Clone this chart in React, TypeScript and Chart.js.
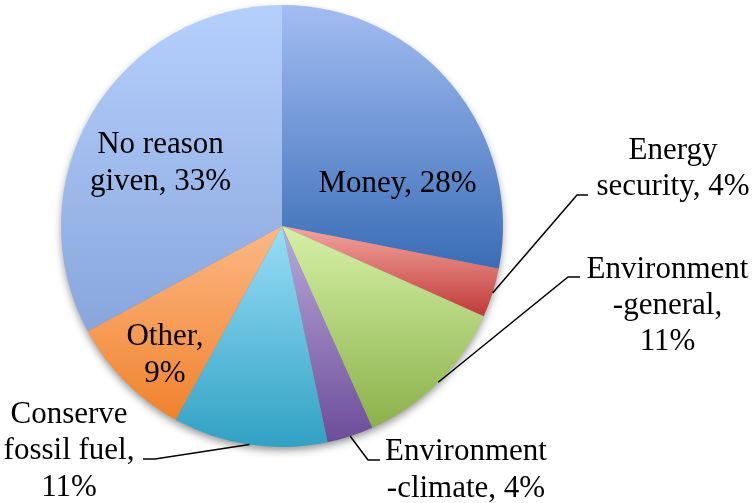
import React, { useEffect, useRef } from 'react';
import { Chart, ArcElement, PieController } from 'chart.js';

Chart.register(ArcElement, PieController);

// ---- data ----
const categories = [
  'Money',
  'Energy security',
  'Environment-general',
  'Environment-climate',
  'Conserve fossil fuel',
  'Other',
  'No reason given',
];
const shares = [28.1, 3.6, 11.6, 3.4, 11.3, 9.1, 32.9];
const labelLines = [
  ['Money, 28%'],
  ['Energy', 'security, 4%'],
  ['Environment', '-general,', '11%'],
  ['Environment', '-climate, 4%'],
  ['Conserve', 'fossil fuel,', '11%'],
  ['Other,', '9%'],
  ['No reason', 'given, 33%'],
];

// ---- styles ----
const topColors = ['#a3bdf2', '#f4a5a0', '#d6f0a6', '#baaadc', '#99def8', '#fdb886', '#b6d0fd'];
const bottomColors = ['#3a6db6', '#bf3a36', '#8bb14a', '#6c4d99', '#31a1c3', '#f0822c', '#88a6dc'];

type Leader = { elbowX: number; endX: number; y: number };
const labelLayout: { x: number; ys: number[]; leader?: Leader }[] = [
  { x: 397.5, ys: [192] },
  { x: 673, ys: [159, 195], leader: { elbowX: 577, endX: 588, y: 195 } },
  { x: 667.5, ys: [278, 314, 350], leader: { elbowX: 568, endX: 580, y: 277 } },
  { x: 466, ys: [460, 497], leader: { elbowX: 368, endX: 380, y: 460 } },
  { x: 69, ys: [423, 459, 496], leader: { elbowX: 155, endX: 143, y: 459 } },
  { x: 165, ys: [345, 382] },
  { x: 160.5, ys: [153, 190] },
];

const FONT = '31px "Liberation Serif"';

function inRange(a: number, s: number, e: number) {
  const TWO = Math.PI * 2;
  let x = a;
  while (x < s) x += TWO;
  while (x - TWO >= s) x -= TWO;
  return x <= e;
}

const gradientPlugin = {
  id: 'sliceGradients',
  beforeDatasetsDraw(chart: any) {
    const ctx = chart.ctx as CanvasRenderingContext2D;
    const meta = chart.getDatasetMeta(0);
    if (!meta.data.length) return;
    const first = meta.data[0] as any;
    ctx.save();
    ctx.beginPath();
    ctx.arc(first.x, first.y, first.outerRadius - 1, 0, Math.PI * 2);
    ctx.shadowColor = 'rgba(0,0,0,0.45)';
    ctx.shadowBlur = 9;
    ctx.shadowOffsetY = 4;
    ctx.fillStyle = '#888';
    ctx.fill();
    ctx.restore();

    meta.data.forEach((el: any, i: number) => {
      const { x, y, startAngle, endAngle, outerRadius } = el;
      const ys = [y, y + outerRadius * Math.sin(startAngle), y + outerRadius * Math.sin(endAngle)];
      if (inRange(-Math.PI / 2, startAngle, endAngle)) ys.push(y - outerRadius);
      if (inRange(Math.PI / 2, startAngle, endAngle)) ys.push(y + outerRadius);
      const minY = Math.min(...ys);
      const maxY = Math.max(...ys);
      const g = ctx.createLinearGradient(0, minY, 0, maxY);
      g.addColorStop(0, topColors[i]);
      g.addColorStop(1, bottomColors[i]);
      el.options.backgroundColor = g;
    });
  },
};

const labelPlugin = {
  id: 'sliceLabels',
  afterDraw(chart: any) {
    const ctx = chart.ctx as CanvasRenderingContext2D;
    const meta = chart.getDatasetMeta(0);
    ctx.save();
    ctx.strokeStyle = '#000';
    ctx.lineWidth = 1.5;
    meta.data.forEach((el: any, i: number) => {
      const lay = labelLayout[i];
      if (lay.leader) {
        const mid = (el.startAngle + el.endAngle) / 2;
        const sx = el.x + el.outerRadius * Math.cos(mid);
        const sy = el.y + el.outerRadius * Math.sin(mid);
        ctx.beginPath();
        ctx.moveTo(sx, sy);
        ctx.lineTo(lay.leader.elbowX, lay.leader.y);
        ctx.lineTo(lay.leader.endX, lay.leader.y);
        ctx.stroke();
      }
    });
    ctx.restore();
    ctx.save();
    ctx.fillStyle = '#000';
    meta.data.forEach((_el: any, i: number) => {
      const lay = labelLayout[i];
      labelLines[i].forEach((line, k) => {
        ctx.font = FONT;
        const w = ctx.measureText(line).width;
        ctx.fillText(line, lay.x - w / 2, lay.ys[k]);
      });
    });
    ctx.restore();
  },
};

export default function App() {
  const ref = useRef<HTMLCanvasElement | null>(null);
  useEffect(() => {
    if (!ref.current) return;
    const chart = new Chart(ref.current, {
      type: 'pie',
      data: {
        labels: categories,
        datasets: [
          {
            data: shares,
            backgroundColor: (c: any) => topColors[c.dataIndex],
            borderWidth: 0,
            hoverOffset: 0,
            offset: 0,
          },
        ],
      },
      options: {
        animation: false,
        responsive: false,
        events: [],
        layout: { padding: { left: 61, top: 5, right: 251, bottom: 56 } },
        plugins: {
          legend: { display: false },
          tooltip: { enabled: false },
        },
      },
      plugins: [gradientPlugin, labelPlugin],
    } as any);
    return () => chart.destroy();
  }, []);
  return (
    <div style={{ position: 'fixed', left: 0, top: 0, width: 754, height: 503, background: '#fff' }}>
      <canvas ref={ref} width={754} height={503} />
    </div>
  );
}
